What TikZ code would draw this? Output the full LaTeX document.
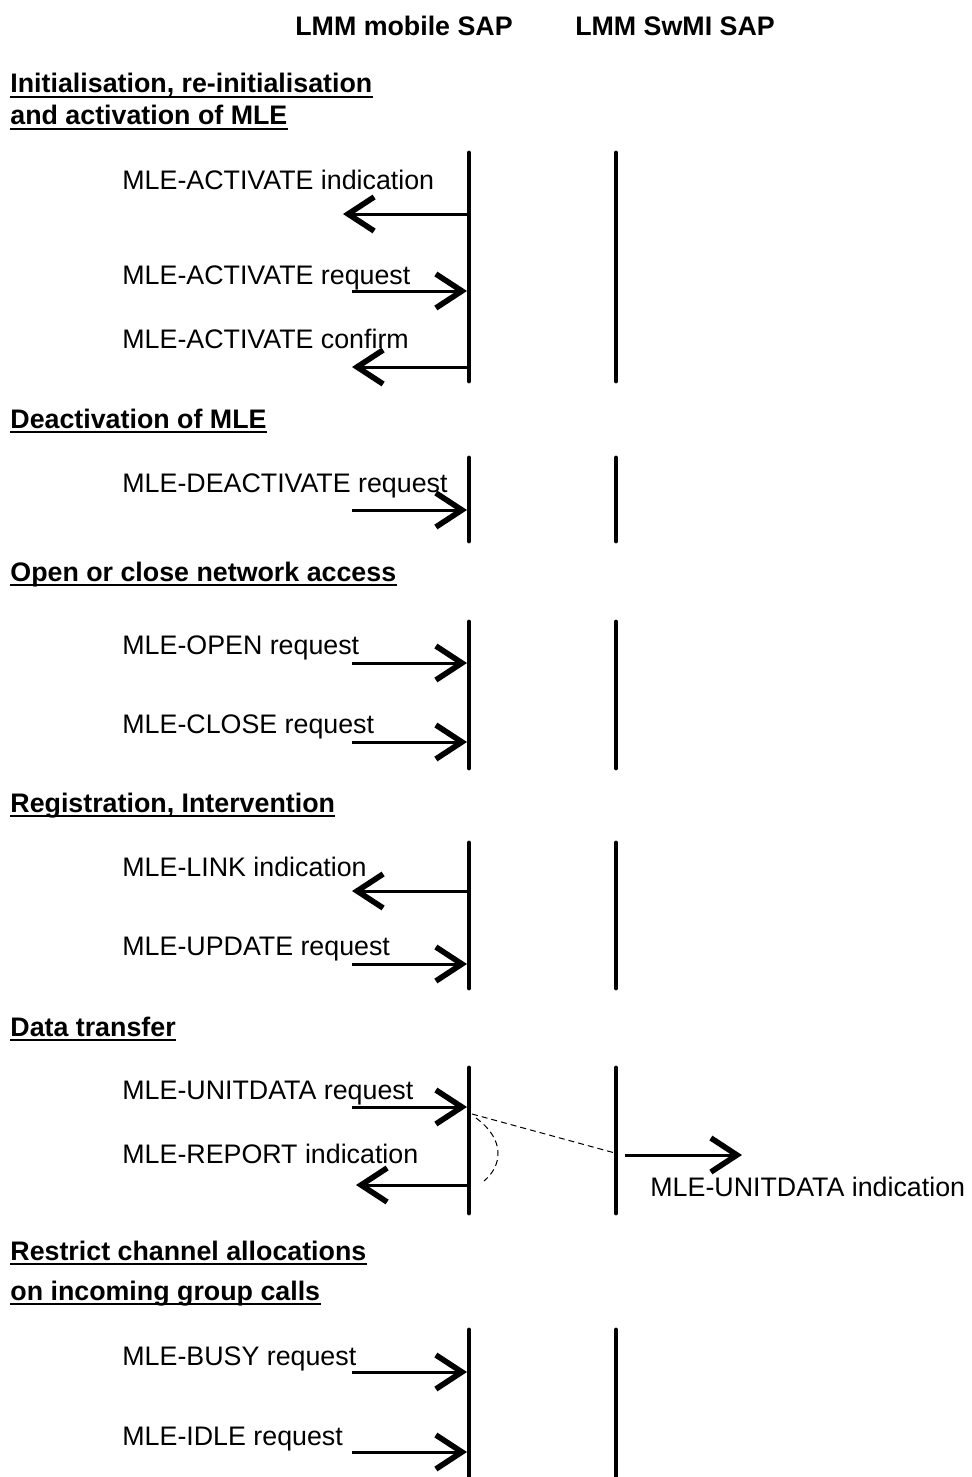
\documentclass[tikz,border=0pt]{standalone}
\usepackage{fontspec}
\setmainfont{Liberation Sans}
\usetikzlibrary{arrows.meta}
\tikzset{
  life/.style={line width=2.4pt, line cap=round},
  msg/.style={line width=1.5pt, -{Straight Barb[length=13pt,width=17pt,line width=2.8pt]}},
  lbl/.style={anchor=base west, inner sep=0pt, font=\fontsize{13.4}{16}\selectfont},
  hdg/.style={anchor=base west, inner sep=0pt, font=\fontsize{13.4}{16}\selectfont\bfseries},
  sap/.style={anchor=base, inner sep=0pt, font=\fontsize{13.4}{16}\selectfont\bfseries},
  uline/.style={line width=1pt},
  dsh/.style={line width=0.5pt, dash pattern=on 3pt off 2pt}
}
\newcommand{\ulhead}[3]{%
  \node[hdg] (#1) at (10,#2) {#3};
  \draw[uline] ([yshift=-2pt]#1.base west) -- ([yshift=-2pt]#1.base east);}
\newcommand{\lifelines}[3]{%
  \coordinate (#1lt) at (469,#2); \coordinate (#1lb) at (469,#3);
  \coordinate (#1rt) at (616,#2); \coordinate (#1rb) at (616,#3);
  \draw[life] (#1lt) -- (#1lb);
  \draw[life] (#1rt) -- (#1rb);}
\begin{document}
\begin{tikzpicture}[x=0.5pt,y=-0.5pt]
\useasboundingbox (0,0) rectangle (972,1477);
% SAP headers
\node[sap] (sapm) at (404,36) {LMM mobile SAP};
\node[sap] (saps) at (675,36) {LMM SwMI SAP};

% Section 1
\ulhead{h1a}{93}{Initialisation, re-initialisation}
\ulhead{h1b}{125}{and activation of MLE}
\lifelines{s1}{153}{381}
\node[lbl] (t11) at (122,189) {MLE-ACTIVATE indication};
\coordinate (a11s) at (467,214); \coordinate (a11e) at (343,214);
\draw[msg] (a11s) -- (a11e);
\node[lbl] (t12) at (122,284) {MLE-ACTIVATE request};
\coordinate (a12s) at (352,291); \coordinate (a12e) at (467,291);
\draw[msg] (a12s) -- (a12e);
\node[lbl] (t13) at (122,348) {MLE-ACTIVATE confirm};
\coordinate (a13s) at (467,367); \coordinate (a13e) at (352,367);
\draw[msg] (a13s) -- (a13e);

% Section 2
\ulhead{h2}{428}{Deactivation of MLE}
\lifelines{s2}{458}{541}
\node[lbl] (t21) at (122,492) {MLE-DEACTIVATE request};
\coordinate (a21s) at (352,510); \coordinate (a21e) at (467,510);
\draw[msg] (a21s) -- (a21e);

% Section 3
\ulhead{h3}{581}{Open or close network access}
\lifelines{s3}{622}{768}
\node[lbl] (t31) at (122,654) {MLE-OPEN request};
\coordinate (a31s) at (352,663); \coordinate (a31e) at (467,663);
\draw[msg] (a31s) -- (a31e);
\node[lbl] (t32) at (122,733) {MLE-CLOSE request};
\coordinate (a32s) at (352,742); \coordinate (a32e) at (467,742);
\draw[msg] (a32s) -- (a32e);

% Section 4
\ulhead{h4}{812}{Registration, Intervention}
\lifelines{s4}{843}{988}
\node[lbl] (t41) at (122,876) {MLE-LINK indication};
\coordinate (a41s) at (467,891); \coordinate (a41e) at (352,891);
\draw[msg] (a41s) -- (a41e);
\node[lbl] (t42) at (122,955) {MLE-UPDATE request};
\coordinate (a42s) at (352,964); \coordinate (a42e) at (467,964);
\draw[msg] (a42s) -- (a42e);

% Section 5
\ulhead{h5}{1036}{Data transfer\ }
\lifelines{s5}{1068}{1213}
\node[lbl] (t51) at (122,1099) {MLE-UNITDATA request};
\coordinate (a51s) at (352,1107); \coordinate (a51e) at (467,1107);
\draw[msg] (a51s) -- (a51e);
\node[lbl] (t52) at (122,1163) {MLE-REPORT indication};
\coordinate (a52s) at (467,1185); \coordinate (a52e) at (356,1185);
\draw[msg] (a52s) -- (a52e);
\coordinate (d1) at (472,1114); \coordinate (d2) at (615,1153);
\draw[dsh] (d1) -- (d2);
\coordinate (c1) at (476,1118); \coordinate (c2) at (484,1181);
\draw[dsh] (c1) .. controls (506,1140) and (502,1166) .. (c2);
\coordinate (a53s) at (625,1155); \coordinate (a53e) at (742,1155);
\draw[msg] (a53s) -- (a53e);
\node[lbl] (t53) at (650,1196) {MLE-UNITDATA indication};

% Section 6
\ulhead{h6a}{1260}{Restrict channel allocations}
\ulhead{h6b}{1300}{on incoming group calls}
\lifelines{s6}{1330}{1490}
\node[lbl] (t61) at (122,1365) {MLE-BUSY request};
\coordinate (a61s) at (352,1372); \coordinate (a61e) at (467,1372);
\draw[msg] (a61s) -- (a61e);
\node[lbl] (t62) at (122,1445) {MLE-IDLE request};
\coordinate (a62s) at (352,1452); \coordinate (a62e) at (467,1452);
\draw[msg] (a62s) -- (a62e);
\end{tikzpicture}
\end{document}
